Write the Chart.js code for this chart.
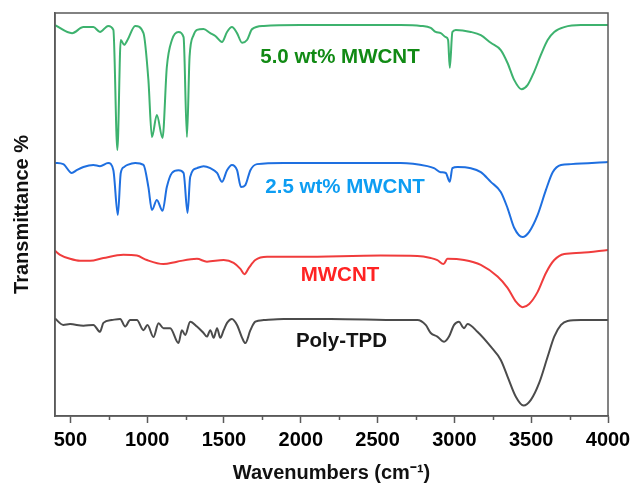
<!DOCTYPE html>
<html>
<head>
<meta charset="utf-8">
<script src="https://cdn.jsdelivr.net/npm/chart.js@4/dist/chart.umd.min.js"></script>
<style>
  html, body { margin: 0; padding: 0; background: #fff; }
  #wrap { width: 632px; height: 488px; }
</style>
</head>
<body>
<div id="wrap"><canvas id="ftir"></canvas></div>
<script>
// FTIR spectra (transmittance is offset per curve, arbitrary units)
var wnGreen = [400, 511, 585, 650, 693, 746, 780, 806, 828, 850, 872, 922, 976, 1008, 1031, 1063, 1100, 1128, 1161, 1204, 1237, 1259, 1276, 1302, 1324, 1367, 1411, 1444, 1487, 1520, 1552, 1585, 1618, 1650, 1683, 1759, 1998, 2650, 2781, 2846, 2878, 2911, 2944, 2959, 2970, 2987, 3009, 3107, 3172, 3237, 3302, 3346, 3389, 3437, 3476, 3519, 3563, 3607, 3650, 3715, 3824, 4000];
var tGreen = [97.0, 95.0, 96.5, 96.5, 95.3, 96.8, 95.8, 66.0, 93.3, 92.1, 93.3, 96.8, 95.0, 83.4, 69.2, 74.7, 69.0, 86.6, 93.3, 95.3, 94.0, 69.2, 89.1, 94.5, 95.8, 96.0, 95.0, 94.3, 92.8, 95.3, 96.5, 95.0, 92.6, 93.3, 96.0, 96.8, 97.0, 97.0, 96.8, 96.3, 95.3, 95.0, 94.0, 93.3, 86.4, 95.3, 95.8, 95.3, 94.5, 92.6, 90.8, 87.6, 83.4, 81.1, 82.1, 85.4, 89.6, 93.3, 95.3, 96.5, 97.0, 97.0];

var wnBlue = [400, 454, 509, 541, 585, 650, 693, 746, 780, 809, 828, 850, 872, 922, 976, 1008, 1031, 1063, 1100, 1128, 1161, 1204, 1237, 1263, 1280, 1324, 1367, 1411, 1455, 1487, 1520, 1552, 1585, 1611, 1639, 1672, 1715, 1887, 2650, 2824, 2867, 2911, 2944, 2970, 2987, 3020, 3107, 3172, 3237, 3302, 3346, 3389, 3444, 3487, 3542, 3596, 3640, 3694, 3759, 4000];
var tBlue = [62.8, 62.5, 60.3, 61.0, 61.8, 62.3, 62.0, 62.8, 61.0, 49.9, 60.3, 61.8, 62.3, 62.8, 62.3, 56.8, 51.1, 53.6, 50.9, 56.8, 60.3, 61.0, 60.3, 50.4, 59.3, 61.5, 62.0, 61.5, 60.3, 58.1, 61.0, 62.3, 61.0, 56.8, 57.3, 61.0, 62.5, 62.8, 62.8, 62.0, 61.5, 60.5, 60.3, 58.1, 61.5, 61.8, 61.5, 60.5, 58.1, 55.6, 51.6, 46.7, 44.4, 45.7, 49.9, 56.1, 60.5, 62.3, 62.5, 63.0];

var wnRed = [400, 433, 498, 563, 628, 715, 845, 933, 998, 1106, 1194, 1324, 1389, 1498, 1563, 1607, 1633, 1661, 1704, 1781, 1998, 2520, 2759, 2846, 2889, 2929, 2955, 3063, 3172, 3281, 3346, 3400, 3444, 3487, 3542, 3596, 3650, 3715, 3824, 4000];
var tRed = [41.0, 40.0, 39.0, 38.5, 38.5, 39.2, 40.0, 39.8, 38.7, 37.7, 38.3, 39.0, 38.3, 38.7, 38.0, 36.5, 35.2, 36.7, 38.7, 39.5, 39.5, 39.8, 39.7, 39.2, 38.7, 37.7, 39.0, 38.7, 37.5, 34.6, 31.8, 28.4, 27.0, 27.8, 30.8, 35.5, 38.7, 40.2, 40.5, 41.2];

var wnBlack = [400, 454, 498, 585, 650, 693, 715, 770, 824, 857, 889, 933, 976, 1002, 1041, 1074, 1106, 1150, 1204, 1226, 1248, 1280, 1324, 1367, 1389, 1411, 1433, 1455, 1476, 1498, 1520, 1552, 1585, 1618, 1639, 1672, 1704, 1759, 1889, 2194, 2650, 2759, 2813, 2846, 2889, 2933, 2965, 2998, 3030, 3052, 3063, 3085, 3150, 3237, 3302, 3346, 3400, 3450, 3498, 3552, 3607, 3650, 3694, 3737, 3824, 4000];
var tBlack = [24.2, 22.6, 22.8, 22.4, 22.6, 20.9, 23.1, 23.8, 24.1, 22.2, 23.8, 23.8, 21.3, 22.6, 19.6, 23.0, 21.8, 21.8, 18.1, 21.3, 20.1, 23.4, 22.2, 20.6, 19.7, 21.3, 19.4, 21.8, 19.4, 21.3, 23.1, 24.1, 22.6, 19.4, 18.1, 21.3, 23.4, 23.8, 24.1, 24.1, 23.8, 23.8, 22.6, 20.6, 19.7, 18.4, 19.7, 22.6, 23.4, 22.2, 21.8, 22.8, 20.9, 17.2, 13.9, 9.8, 4.8, 2.6, 4.0, 8.2, 14.7, 19.7, 22.6, 23.6, 23.8, 23.8];

// x ticks: labelled majors and unlabelled minors
var majorTicks = [500, 1000, 1500, 2000, 2500, 3000, 3500, 4000];
var minorTicks = [750, 1250, 1750, 2250, 2750, 3250, 3750];

// curve names and where they sit (wavenumber, transmittance)
var seriesNames = ['5.0 wt% MWCNT', '2.5 wt% MWCNT', 'MWCNT', 'Poly-TPD'];
var labelWn = [2255, 2288, 2255, 2265];
var labelT = [89.1, 56.8, 35.0, 18.5];
var labelColors = ['#118a14', '#0d9df2', '#ff2323', '#141414'];

function pts(xs, ys) {
  return xs.map(function (x, i) { return { x: x, y: ys[i] }; });
}

function line(label, xs, ys, color) {
  return {
    label: label,
    data: pts(xs, ys),
    borderColor: color,
    borderWidth: 2,
    pointRadius: 0,
    cubicInterpolationMode: 'monotone',
    fill: false
  };
}

var axisColor = '#5a5a5a';
var fontFamily = '"Liberation Sans", Arial, sans-serif';

// box around the plot, minor ticks and curve names
var decorations = {
  id: 'decorations',
  afterDraw: function (chart) {
    var ctx = chart.ctx, a = chart.chartArea;
    var xs = chart.scales.x, ys = chart.scales.y;
    ctx.save();
    ctx.strokeStyle = axisColor;
    ctx.lineWidth = 1.5;
    ctx.strokeRect(a.left, a.top, a.right - a.left, a.bottom - a.top);
    minorTicks.forEach(function (v) {
      var px = Math.round(xs.getPixelForValue(v)) + 0.5;
      ctx.beginPath();
      ctx.moveTo(px, a.bottom);
      ctx.lineTo(px, a.bottom + 4);
      ctx.stroke();
    });
    ctx.font = 'bold 20.5px ' + fontFamily;
    ctx.textAlign = 'center';
    ctx.textBaseline = 'middle';
    seriesNames.forEach(function (name, i) {
      ctx.fillStyle = labelColors[i];
      ctx.fillText(name, xs.getPixelForValue(labelWn[i]), ys.getPixelForValue(labelT[i]));
    });
    ctx.restore();
  }
};

var ftir = new Chart(document.getElementById('ftir'), {
  type: 'line',
  data: {
    datasets: [
      line(seriesNames[0], wnGreen, tGreen, '#3db26e'),
      line(seriesNames[1], wnBlue, tBlue, '#1e6fe0'),
      line(seriesNames[2], wnRed, tRed, '#f03c3c'),
      line(seriesNames[3], wnBlack, tBlack, '#4b4b4b')
    ]
  },
  options: {
    responsive: true,
    maintainAspectRatio: false,
    animation: false,
    layout: { padding: { top: 13, right: 0, left: 0, bottom: 0 } },
    plugins: {
      legend: { display: false },
      tooltip: { enabled: false }
    },
    scales: {
      x: {
        type: 'linear',
        min: 400,
        max: 4000,
        afterBuildTicks: function (scale) {
          scale.ticks = majorTicks.map(function (v) { return { value: v }; });
        },
        afterFit: function (scale) {
          scale.height = 72;
          scale.paddingRight = 24;
        },
        ticks: {
          autoSkip: false,
          maxRotation: 0,
          padding: 5,
          color: '#000',
          font: { family: fontFamily, size: 20, weight: 'bold' },
          callback: function (v) { return String(v); }
        },
        grid: {
          drawOnChartArea: false,
          tickLength: 7,
          tickWidth: 1.5,
          tickColor: axisColor
        },
        border: { color: axisColor, width: 1.5 },
        title: {
          display: true,
          text: 'Wavenumbers (cm\u207B\u00B9)',
          color: '#111',
          font: { family: fontFamily, size: 20, weight: 'bold' },
          padding: { top: 0, bottom: 3 }
        }
      },
      y: {
        min: 0,
        max: 100,
        afterFit: function (scale) { scale.width = 55; },
        ticks: { display: false },
        grid: { display: false },
        border: { color: axisColor, width: 1.5 },
        title: {
          display: true,
          text: 'Transmittance %',
          color: '#111',
          font: { family: fontFamily, size: 20, weight: 'bold' },
          padding: { top: 10, bottom: 0 }
        }
      }
    }
  },
  plugins: [decorations]
});
</script>
</body>
</html>
